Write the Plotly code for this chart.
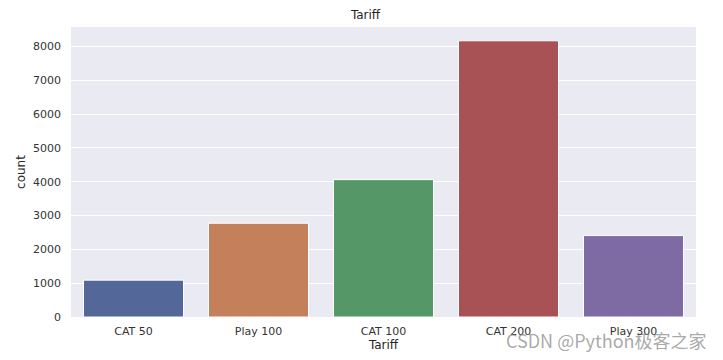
import plotly.graph_objects as go

categories = ["CAT 50", "Play 100", "CAT 100", "CAT 200", "Play 300"]
counts = [1090, 2773, 4061, 8166, 2407]
colors = ["#546799", "#c4805a", "#559767", "#a95255", "#7f6ba3"]
y_ticks = [0, 1000, 2000, 3000, 4000, 5000, 6000, 7000, 8000]

FONT = "DejaVu Sans"
CJK = "Noto Sans CJK SC"

fig = go.Figure(go.Bar(
    x=categories, y=counts,
    marker=dict(color=colors, line=dict(color="white", width=1)),
    width=0.8,
))

# page has an 8px body margin; figure sized so the plot lands where the reference's does
fig.update_layout(
    width=715, height=352,
    margin=dict(l=63, r=27, t=19, b=43),
    paper_bgcolor="white", plot_bgcolor="#EAEAF2",
    font=dict(family=FONT, size=11, color="#333333"),
    title=dict(text="Tariff", x=0.5, xanchor="center", y=0.980, yanchor="middle",
               font=dict(size=12, color="#262626")),
    showlegend=False,
    bargap=0.2,
)
fig.update_xaxes(
    range=[-0.5, 4.5], showgrid=False, zeroline=False, ticks="", automargin=False,
    title=dict(text="Tariff", font=dict(size=12, color="#262626"), standoff=0),
    tickfont=dict(size=11), ticklabelstandoff=6,
)
fig.update_yaxes(
    range=[0, 8574], tickvals=y_ticks, showgrid=True, gridcolor="white", gridwidth=1,
    zeroline=False, ticks="", automargin=False,
    title=dict(text="count", font=dict(size=12, color="#262626"), standoff=4),
    tickfont=dict(size=11), ticklabelstandoff=9,
)
fig.add_annotation(
    text="CSDN @Python极客之家", xref="paper", yref="paper",
    x=1.02, y=-0.08, xanchor="right", yanchor="middle", showarrow=False,
    font=dict(size=18, color="rgba(120,120,120,0.65)", family=CJK),
)

fig.write_html("out.html")
